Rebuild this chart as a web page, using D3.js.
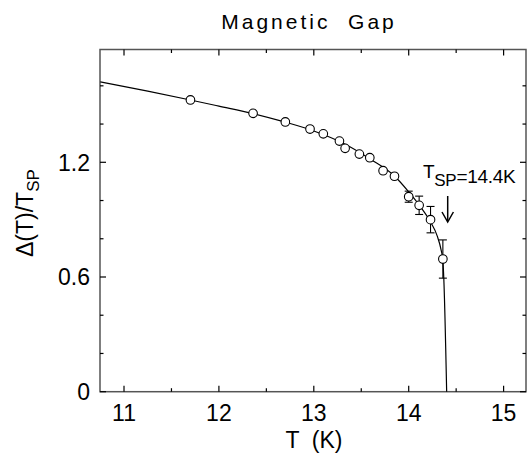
<!DOCTYPE html>
<html>
<head>
<meta charset="utf-8">
<script src="https://cdn.jsdelivr.net/npm/d3@7"></script>
<style>
  body { margin: 0; background: #fff; }
  text { font-family: "Liberation Sans", Arial, sans-serif; fill: #000; }
</style>
</head>
<body>
<script>
// measured points: temperature (K) and gap ratio
var temps  = [11.70, 12.36, 12.70, 12.96, 13.10, 13.27, 13.33, 13.48, 13.59, 13.73, 13.85, 14.00, 14.11, 14.23, 14.36];
var gaps   = [1.526, 1.456, 1.411, 1.374, 1.349, 1.311, 1.273, 1.243, 1.224, 1.156, 1.127, 1.020, 0.975, 0.900, 0.694];
var errs   = [0, 0, 0, 0, 0, 0, 0, 0, 0, 0, 0, 0.029, 0.048, 0.069, 0.10];

// fitted curve
var fitT   = [10.75, 11.25, 11.70, 12.00, 12.36, 12.70, 13.00, 13.30, 13.60, 13.85, 14.00, 14.12, 14.23, 14.30, 14.34, 14.36, 14.37, 14.40];
var fitV   = [1.621, 1.572, 1.526, 1.494, 1.455, 1.410, 1.364, 1.302, 1.215, 1.128, 1.045, 0.970, 0.888, 0.815, 0.745, 0.685, 0.590, 0.0];

var xMajor = [11, 12, 13, 14, 15];
var xMinor = [11.5, 12.5, 13.5, 14.5];
var yMajor = [0, 0.6, 1.2];
var yMinor = [0.2, 0.4, 0.8, 1.0, 1.4, 1.6];

var width = 530, height = 456;
var pLeft = 100, pRight = 526, pTop = 49.5, pBottom = 391.7;

var x = d3.scaleLinear().domain([10.747, 15.236]).range([pLeft, pRight]);
var y = d3.scaleLinear().domain([0, 1.79]).range([pBottom, pTop]);

var svg = d3.select("body").append("svg")
    .attr("width", width)
    .attr("height", height);

// frame
svg.append("rect")
    .attr("x", pLeft).attr("y", pTop)
    .attr("width", pRight - pLeft).attr("height", pBottom - pTop)
    .attr("fill", "none").attr("stroke", "#555").attr("stroke-width", 1.5);

// ticks on all four sides, pointing inwards
var xt = [], yt = [];
xMajor.forEach(function (v) { xt.push({v: v, len: 6}); });
xMinor.forEach(function (v) { xt.push({v: v, len: 3.5}); });
yMajor.forEach(function (v) { yt.push({v: v, len: 6}); });
yMinor.forEach(function (v) { yt.push({v: v, len: 3.5}); });

var ticks = svg.append("g").attr("stroke", "#000").attr("stroke-width", 1.2);
ticks.selectAll(".xb").data(xt).enter().append("line")
    .attr("x1", function (d) { return x(d.v); }).attr("x2", function (d) { return x(d.v); })
    .attr("y1", pBottom).attr("y2", function (d) { return pBottom - d.len; });
ticks.selectAll(".xt").data(xt).enter().append("line")
    .attr("x1", function (d) { return x(d.v); }).attr("x2", function (d) { return x(d.v); })
    .attr("y1", pTop).attr("y2", function (d) { return pTop + d.len; });
ticks.selectAll(".yl").data(yt).enter().append("line")
    .attr("y1", function (d) { return y(d.v); }).attr("y2", function (d) { return y(d.v); })
    .attr("x1", pLeft).attr("x2", function (d) { return pLeft + d.len; });
ticks.selectAll(".yr").data(yt).enter().append("line")
    .attr("y1", function (d) { return y(d.v); }).attr("y2", function (d) { return y(d.v); })
    .attr("x1", pRight).attr("x2", function (d) { return pRight - d.len; });

// tick labels
svg.selectAll(".xlab").data(xMajor).enter().append("text")
    .attr("x", function (d) { return x(d); })
    .attr("y", 421)
    .attr("text-anchor", "middle")
    .attr("font-size", 23)
    .text(function (d) { return d; });

svg.selectAll(".ylab").data(yMajor).enter().append("text")
    .attr("x", 90)
    .attr("y", function (d) { return y(d) + 8.5; })
    .attr("text-anchor", "end")
    .attr("font-size", 23)
    .text(function (d) { return d === 0 ? "0" : d3.format(".1f")(d); });

// title
svg.append("text")
    .attr("x", 309).attr("y", 29)
    .attr("text-anchor", "middle")
    .attr("font-size", 21)
    .attr("letter-spacing", 3)
    .attr("xml:space", "preserve")
    .text("Magnetic  Gap");

// axis titles
svg.append("text")
    .attr("x", 314).attr("y", 448)
    .attr("text-anchor", "middle")
    .attr("font-size", 23)
    .attr("xml:space", "preserve")
    .text("T  (K)");

var yl = svg.append("text")
    .attr("transform", "translate(33,257) rotate(-90)")
    .attr("font-size", 23);
yl.append("tspan").text("\u0394(T)/T");
yl.append("tspan").attr("dy", 6).attr("font-size", 17).text("SP");

// fit line
var line = d3.line()
    .x(function (d) { return x(d[0]); })
    .y(function (d) { return y(d[1]); })
    .curve(d3.curveMonotoneX);

svg.append("path")
    .datum(d3.zip(fitT, fitV))
    .attr("d", line)
    .attr("fill", "none")
    .attr("stroke", "#000")
    .attr("stroke-width", 1.2);

// error bars
var pts = d3.zip(temps, gaps, errs);
var eb = svg.append("g").attr("stroke", "#000").attr("stroke-width", 1.1);
pts.filter(function (d) { return d[2] > 0; }).forEach(function (d) {
    var cx = x(d[0]);
    eb.append("line").attr("x1", cx).attr("x2", cx)
        .attr("y1", y(d[1] - d[2])).attr("y2", y(d[1] + d[2]));
    eb.append("line").attr("x1", cx - 4).attr("x2", cx + 4)
        .attr("y1", y(d[1] - d[2])).attr("y2", y(d[1] - d[2]));
    eb.append("line").attr("x1", cx - 4).attr("x2", cx + 4)
        .attr("y1", y(d[1] + d[2])).attr("y2", y(d[1] + d[2]));
});

// points
svg.selectAll("circle").data(pts).enter().append("circle")
    .attr("cx", function (d) { return x(d[0]); })
    .attr("cy", function (d) { return y(d[1]); })
    .attr("r", 4.3)
    .attr("fill", "#fff")
    .attr("stroke", "#000")
    .attr("stroke-width", 1.1);

// annotation
var ann = svg.append("text")
    .attr("x", 423).attr("y", 178)
    .attr("font-size", 19)
    .attr("letter-spacing", -0.3);
ann.append("tspan").text("T");
ann.append("tspan").attr("dy", 8).attr("font-size", 17).text("SP");
ann.append("tspan").attr("dy", -3).text("=14.4K");

svg.append("line")
    .attr("x1", 447.7).attr("x2", 447.7)
    .attr("y1", 196).attr("y2", 221)
    .attr("stroke", "#000").attr("stroke-width", 1.5);
svg.append("path")
    .attr("d", "M442,212 L447.7,222 L453.4,212")
    .attr("fill", "none").attr("stroke", "#000").attr("stroke-width", 1.5);
</script>
</body>
</html>
